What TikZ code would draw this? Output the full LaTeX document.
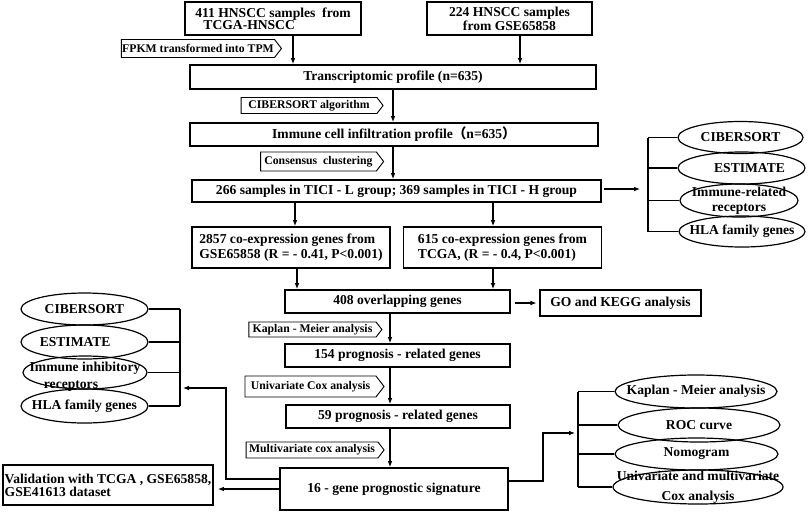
\documentclass[tikz,border=0pt]{standalone}
\usepackage{fontspec}
\setmainfont{Liberation Serif}
\newfontfamily\cjk{Noto Sans CJK SC}
\usepackage{tikz}
\usetikzlibrary{arrows.meta,shapes.geometric,shapes.symbols}

\begin{document}
\begin{tikzpicture}[x=0.75pt, y=-0.75pt, font=\bfseries\fontsize{10.2}{11.3}\selectfont,
		box/.style={draw, line width=1.3pt, inner sep=0pt},
		sz/.style 2 args={minimum width={#1*0.75pt}, minimum height={#2*0.75pt}},
		tag/.style={draw, line width=0.7pt, shape=signal, signal to=east, signal pointer angle=105, inner sep=0pt, font=\bfseries\fontsize{8.8}{10}\selectfont},
		oval/.style={draw, ellipse, line width=0.9pt, inner sep=0pt},
		link/.style={line width=0.8pt, -{Latex[length=4.5pt,width=3.5pt]}},
		brace/.style={line width=1pt}]
		\useasboundingbox (0,0) rectangle (809,512);
		% main column
		\node[box, sz={176}{33}, align=left, font=\bfseries\fontsize{10.2}{9.3}\selectfont] (tcga) at (273,18.5) {411 HNSCC samples\ \ from\\\hspace*{0.6em}TCGA-HNSCC};
		\node[box, sz={165}{33}, align=center, font=\bfseries\fontsize{10.2}{9.3}\selectfont] (gse) at (509.5,18.5) {224 HNSCC samples\\from GSE65858};
		\node[box, sz={406}{24}] (trans) at (393,77) {Transcriptomic profile (n=635)};
		\node[box, sz={408}{23}] (immune) at (394,134.5) {Immune cell infiltration profile{\cjk （}n=635{\cjk ）}};
		\node[box, sz={409}{22}] (tici) at (396.5,191) {266 samples in TICI - L group; 369 samples in TICI - H group};
		\node[box, sz={198}{41}, align=left] (coexpA) at (291,247.5) {2857 co-expression genes from\\GSE65858 (R = - 0.41, P<0.001)};
		\node[box, sz={198}{41}, align=left] (coexpB) at (502.5,247.5) {615 co-expression genes from\\TCGA, (R = - 0.4, P<0.001)};
		\node[box, sz={225}{23}] (overlap) at (397.5,301.5) {408 overlapping genes};
		\node[box, sz={161}{26}] (gokegg) at (620.5,303) {GO and KEGG analysis};
		\node[box, sz={225}{23}] (prog154) at (397.5,355.5) {154 prognosis - related genes};
		\node[box, sz={224}{23}] (prog59) at (398,416.5) {59 prognosis - related genes};
		\node[box, sz={228}{42}] (sig16) at (394,489) {16 - gene prognostic signature};
		\node[box, sz={210}{40}, align=left, font=\bfseries\fontsize{10.2}{9.8}\selectfont] (valid) at (108,485) {Validation with TCGA , GSE65858,\\GSE41613 dataset};
		% method tags
		\node[tag, sz={160}{18}] (fpkmT) at (198,48.5) {FPKM transformed into TPM};
		\node[tag, sz={142}{16}] (cibT) at (309,105.5) {CIBERSORT algorithm};
		\node[tag, sz={123}{19}] (consT) at (318.5,161.5) {Consensus\ \ clustering};
		\node[tag, sz={133}{15}] (kmT) at (312.5,329.5) {Kaplan - Meier analysis};
		\node[tag, sz={139}{21}] (uniT) at (310.5,386.5) {Univariate Cox analysis};
		\node[tag, sz={138}{16}] (multiT) at (312,450) {Multivariate cox analysis};
		% ellipses, TICI groups
		\node[oval, sz={125}{32}, label=center:CIBERSORT] (cibR) at (740.5,137.5) {};
		\node[oval, sz={127}{32}, label={[xshift=6pt]center:ESTIMATE}] (estR) at (741.5,168) {};
		\node[oval, sz={118}{33}, label={[align=center]center:Immune-related\\receptors}] (immR) at (739,200.5) {};
		\node[oval, sz={126}{31}, label=center:HLA family genes] (hlaR) at (742,231.5) {};
		% ellipses, signature
		\node[oval, sz={127}{32}, label=center:CIBERSORT] (cibL) at (84.5,309) {};
		\node[oval, sz={127}{34}, label={[xshift=-7pt]center:ESTIMATE}] (estL) at (84.5,342) {};
		\node[oval, sz={124}{33}, label={[align=center, yshift=-3pt, font=\bfseries\fontsize{10.2}{12.8}\selectfont]center:Immune inhibitory\\receptors\hspace*{21pt}}] (immL) at (85,372.5) {};
		\node[oval, sz={127}{34}, label=center:HLA family genes] (hlaL) at (84.5,406) {};
		\node[oval, sz={162}{33}, label=center:Kaplan - Meier analysis] (kmR) at (696,391.5) {};
		\node[oval, sz={162}{34}, label=center:ROC curve] (rocR) at (699,425) {};
		\node[oval, sz={163}{32}, label=center:Nomogram] (nomoR) at (696.5,454) {};
		\node[oval, sz={170}{34}, label={[align=center, font=\bfseries\fontsize{10.2}{15}\selectfont]center:Univariate and multivariate\\Cox analysis}] (uniR) at (698,487) {};
		% lanes, bends and tips
		\coordinate (lnA) at (293,0);
		\coordinate (lnB) at (520,0);
		\coordinate (lnC) at (393,0);
		\coordinate (lnD) at (295,0);
		\coordinate (lnE) at (493,0);
		\coordinate (lnF) at (297,0);
		\coordinate (lnG) at (390,0);
		\coordinate (tipT) at (640,189);
		\coordinate (bndR) at (543,433);
		\coordinate (tipR) at (575,433);
		\coordinate (bndL) at (226,388);
		\coordinate (tipL) at (183,388);
		\coordinate (brT) at (648,0);
		\coordinate (brL) at (180,0);
		\coordinate (brR) at (578,0);
		\path[link]
		(tcga.south -| lnA) edge (trans.north -| lnA)
		(gse.south -| lnB) edge (trans.north -| lnB)
		(trans.south -| lnC) edge (immune.north -| lnC)
		(immune.south -| lnC) edge (tici.north -| lnC)
		(tici.south -| lnD) edge (coexpA.north -| lnD)
		(tici.south -| lnE) edge (coexpB.north -| lnE)
		(coexpA.south -| lnF) edge (overlap.north -| lnF)
		(coexpB.south -| lnE) edge (overlap.north -| lnE)
		(overlap.south -| lnG) edge (prog154.north -| lnG)
		(prog154.south -| lnG) edge (prog59.north -| lnG)
		(prog59.south -| lnG) edge (sig16.north -| lnG)
		(overlap.east |- gokegg.west) edge[shorten <=3pt, shorten >=2pt] (gokegg.west)
		(tipT -| tici.east) edge[shorten <=1.5pt] (tipT)
		(sig16.west) edge[shorten >=3pt] (sig16.west -| valid.east);
		\draw[link] ([yshift=6pt]sig16.east) -| (bndR) -- (tipR);
		\draw[link] ([yshift=7.5pt]sig16.west) -| (bndL) -- (tipL);
		% brackets
		\draw[brace] (brT |- cibR.west) -- (brT |- hlaR.west);
		\foreach \e in {cibR,estR,immR,hlaR} \draw[brace] (\e.west) -- (\e.west -| brT);
		\draw[brace] (brL |- cibL.east) -- (brL |- hlaL.east);
		\foreach \e in {cibL,estL,immL,hlaL} \draw[brace] (\e.east) -- (\e.east -| brL);
		\draw[brace] (brR |- kmR.west) -- (brR |- uniR.west);
		\foreach \e in {kmR,rocR,nomoR,uniR} \draw[brace] (\e.west) -- (\e.west -| brR);
	\end{tikzpicture}
\end{document}
